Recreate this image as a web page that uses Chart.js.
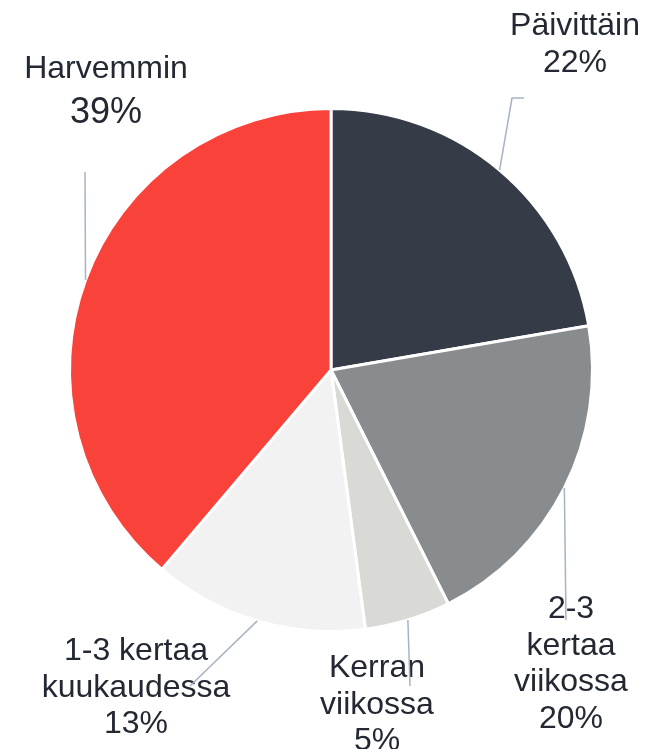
<!DOCTYPE html>
<html>
<head>
<meta charset="utf-8">
<script src="https://cdn.jsdelivr.net/npm/chart.js@4"></script>
<style>
  html, body { margin: 0; padding: 0; background: #fff; }
  #wrap { width: 664px; height: 749px; position: relative; }
</style>
</head>
<body>
<div id="wrap"><canvas id="usageChart"></canvas></div>
<script>
const categories = ["Päivittäin", "2-3 kertaa viikossa", "Kerran viikossa", "1-3 kertaa kuukaudessa", "Harvemmin"];
const shares = [22.3, 20.3, 5.3, 13.3, 38.8];
const labelLines = [
    ["Päivittäin"],
    ["2-3", "kertaa", "viikossa"],
    ["Kerran", "viikossa"],
    ["1-3 kertaa", "kuukaudessa"],
    ["Harvemmin"]
];
const sliceColors = ["#353B47", "#898C8F", "#D9D9D5", "#F2F2F2", "#F9423A"];

// label placement: text centre x, first baseline y, end of the leader line
const labelPlaces = [
    { x: 575, y: 35, lineEnd: [512, 98], elbow: [524, 98] },
    { x: 571, y: 618, lineEnd: [566, 620] },
    { x: 377, y: 677, lineEnd: [410, 686] },
    { x: 136, y: 660, lineEnd: [190, 686] },
    { x: 106, y: 78, lineEnd: [85, 172] }
];

const textColor = "#232832";
const leaderColor = "#A7B3C3";
const fontFamily = "'Liberation Sans', Arial, sans-serif";

const sliceLabels = {
    id: "sliceLabels",
    afterDatasetsDraw(chart) {
        const ctx = chart.ctx;
        const arcs = chart.getDatasetMeta(0).data;
        const total = shares.reduce((a, b) => a + b, 0);
        const biggest = shares.indexOf(Math.max(...shares));

        ctx.save();
        ctx.fillStyle = textColor;
        ctx.textAlign = "center";
        ctx.textBaseline = "alphabetic";

        labelLines.forEach((lines, i) => {
            const place = labelPlaces[i];
            const big = i === biggest;
            const step = 36.5;
            ctx.font = "32px " + fontFamily;
            lines.forEach((line, k) => {
                ctx.fillText(line, place.x, place.y + k * step);
            });
            const pct = Math.round(shares[i] / total * 100) + "%";
            ctx.font = (big ? "36px " : "32px ") + fontFamily;
            ctx.fillText(pct, place.x, place.y + lines.length * step + (big ? 8 : 0));
        });

        // leader lines, drawn over the text like the original
        ctx.strokeStyle = leaderColor;
        ctx.lineWidth = 1.5;
        arcs.forEach((arc, i) => {
            const p = arc.getProps(["x", "y", "startAngle", "endAngle", "outerRadius"], true);
            const mid = (p.startAngle + p.endAngle) / 2;
            const place = labelPlaces[i];
            ctx.beginPath();
            ctx.moveTo(p.x + Math.cos(mid) * p.outerRadius, p.y + Math.sin(mid) * p.outerRadius);
            ctx.lineTo(place.lineEnd[0], place.lineEnd[1]);
            if (place.elbow) ctx.lineTo(place.elbow[0], place.elbow[1]);
            ctx.stroke();
        });
        ctx.restore();
    }
};

new Chart(document.getElementById("usageChart"), {
    type: "pie",
    data: {
        labels: categories,
        datasets: [{
            data: shares,
            backgroundColor: sliceColors,
            borderColor: "#ffffff",
            borderWidth: 3
        }]
    },
    options: {
        responsive: true,
        maintainAspectRatio: false,
        animation: false,
        layout: {
            padding: { left: 68, right: 70, top: 107, bottom: 116 }
        },
        plugins: {
            legend: { display: false },
            tooltip: { enabled: false }
        }
    },
    plugins: [sliceLabels]
});
</script>
</body>
</html>
